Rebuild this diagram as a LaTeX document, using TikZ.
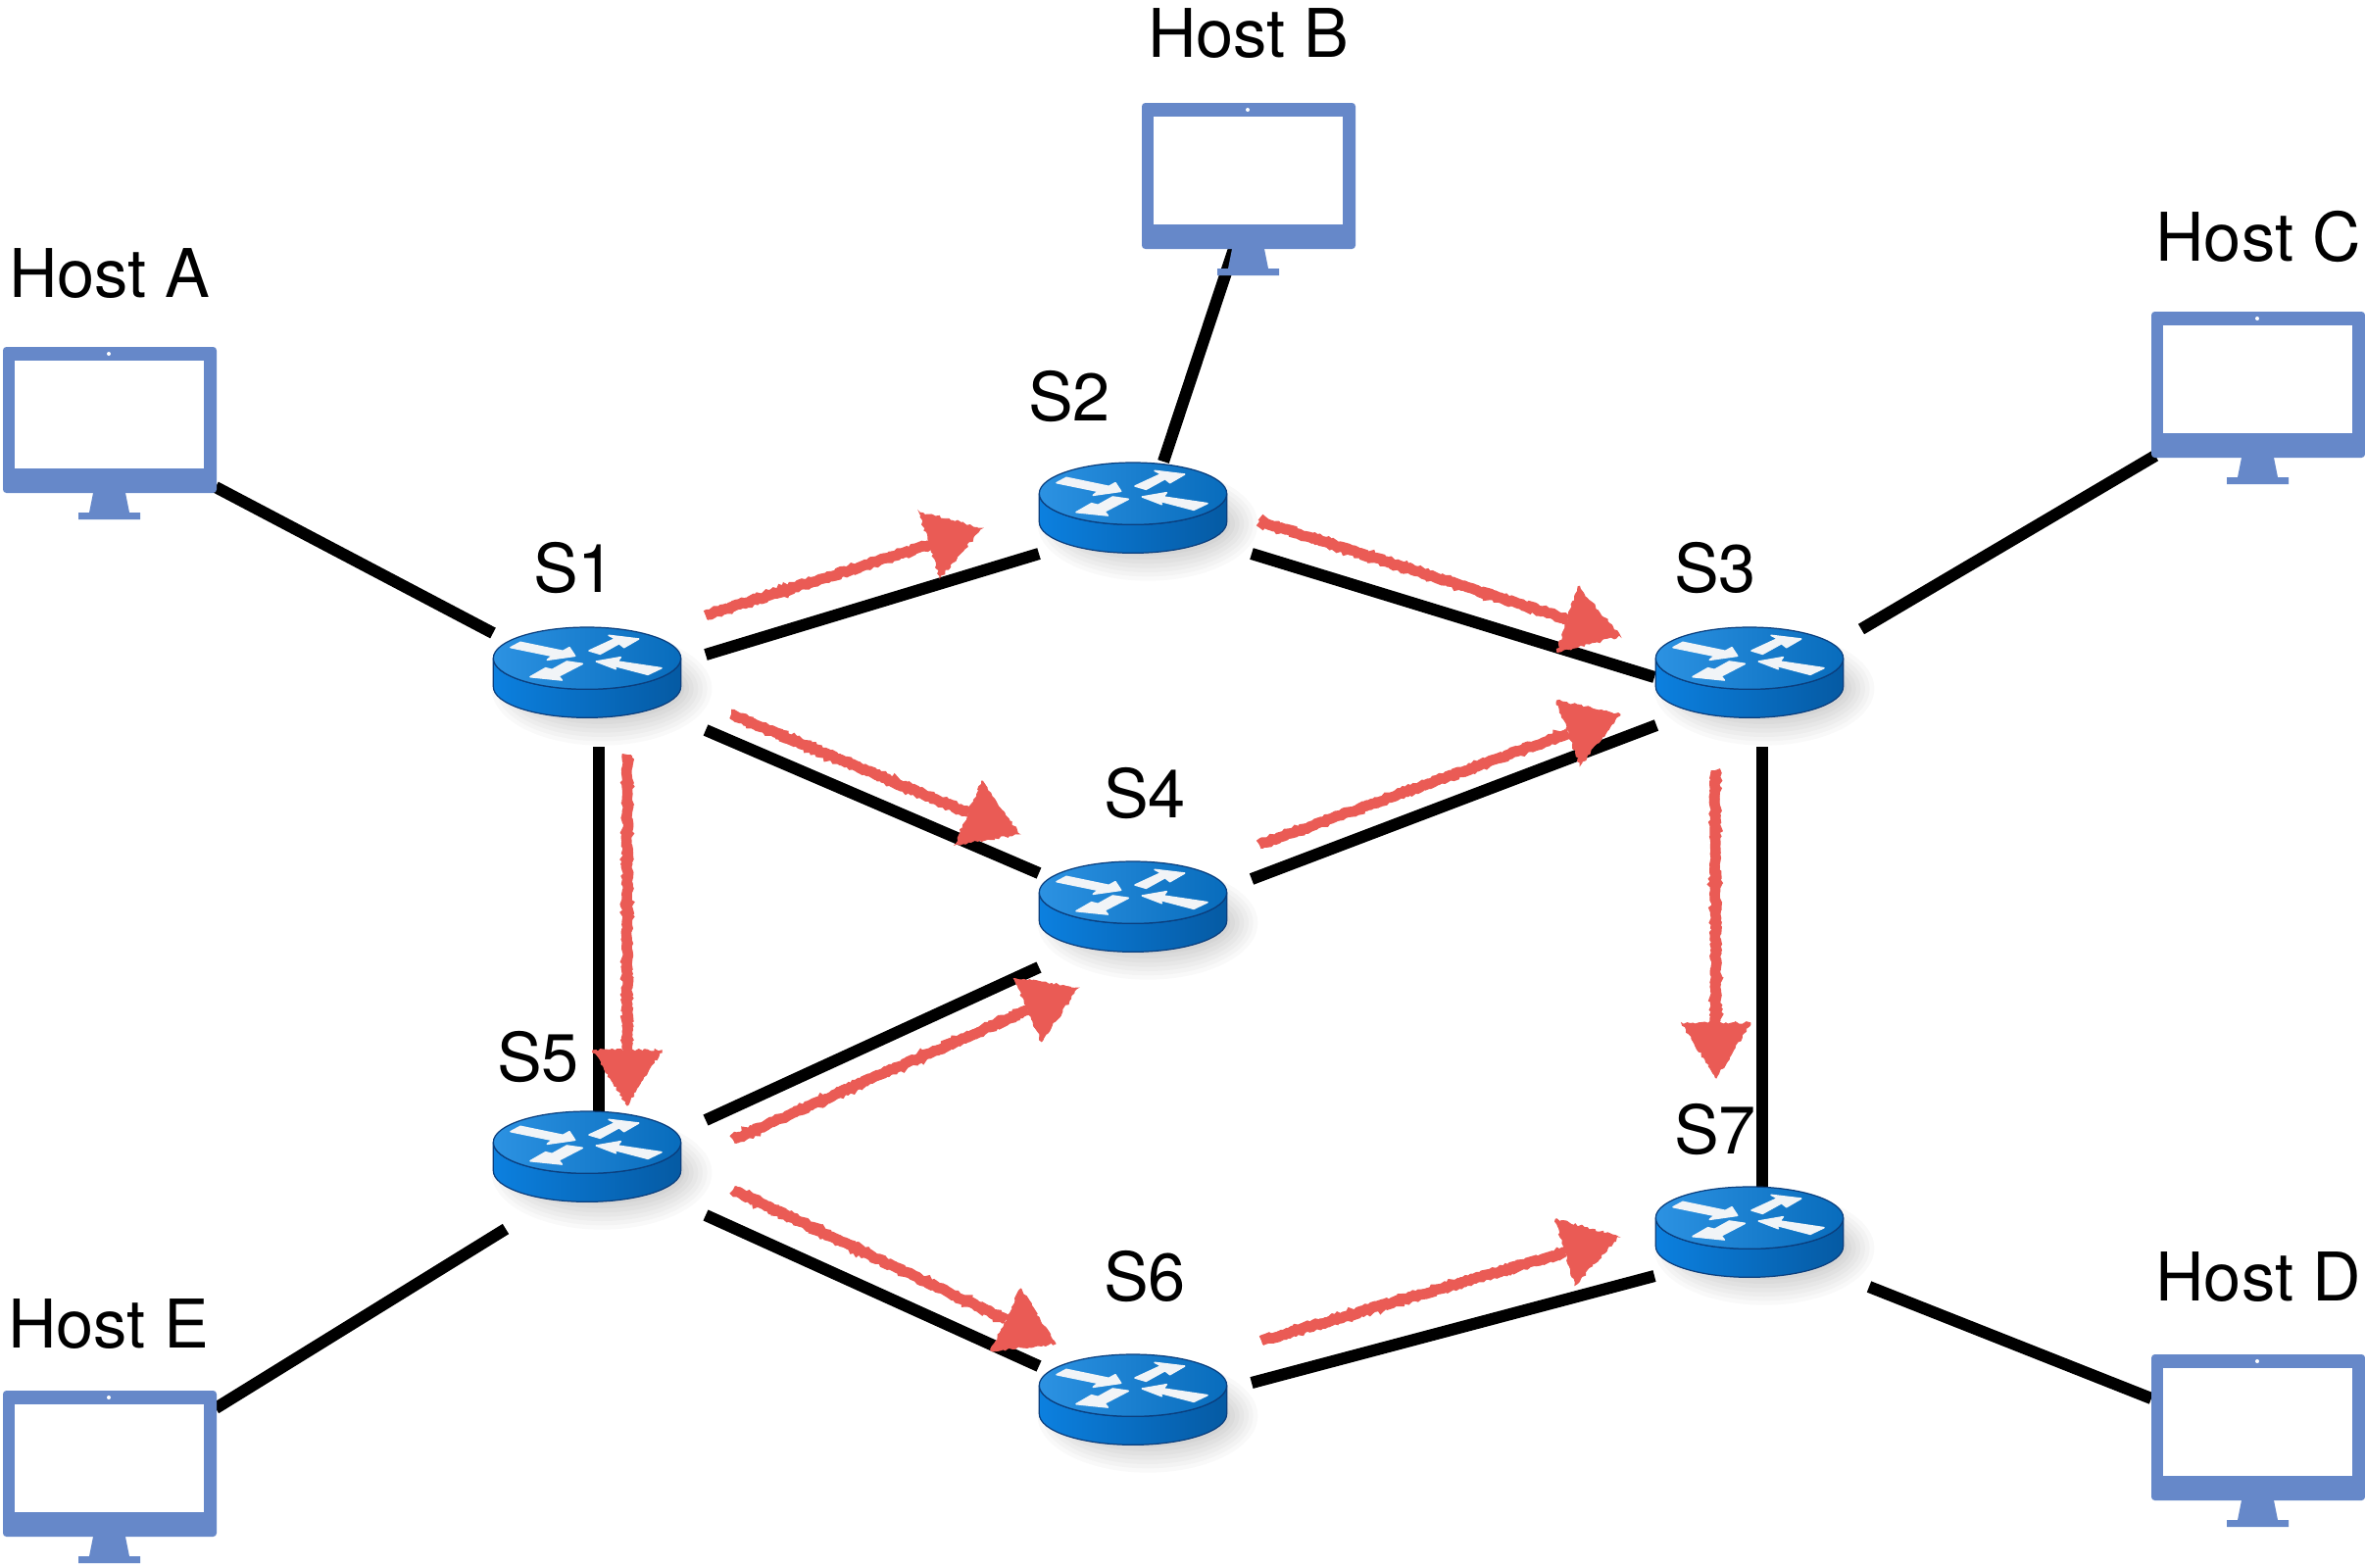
\documentclass[tikz,border=0pt]{standalone}
\usepackage{fontspec}
\setmainfont{TeX Gyre Heros}
\usetikzlibrary{calc,decorations.pathmorphing}
\definecolor{monitor}{HTML}{6688C9}
\definecolor{chalkred}{HTML}{EA5B55}
\definecolor{rimline}{HTML}{0B3F7E}
\definecolor{arrowwhite}{HTML}{F1F4F7}
\tikzset{
  link/.style={line width=6.9pt,black},
  chalkcore/.style={line width=5pt,draw=chalkred},
  chalkline/.style={line width=6pt,draw=chalkred,decorate,decoration={random steps,segment length=1.4pt,amplitude=0.7pt}},
  chalkhead/.style={fill=chalkred,draw=chalkred,line width=0.5pt,decorate,decoration={random steps,segment length=1.6pt,amplitude=0.8pt}},
  routerbox/.style={minimum width=3.84cm,minimum height=1.84cm,inner sep=0pt,draw=none},
  hostbox/.style={minimum width=4.36cm,minimum height=3.52cm,inner sep=0pt,draw=none},
  lbl/.style={inner sep=0pt,font=\fontsize{39}{41}\selectfont,text=black},
  router/.pic={
    \begin{scope}[scale=1/3]
      \foreach \k in {1,...,8}
        \fill[black,opacity=0.022] (45,50) circle[x radius={225+14*\k},y radius={70+13*\k}];
      \draw[rimline,line width=0.7pt,left color={rgb,255:red,12;green,128;blue,223},right color={rgb,255:red,5;green,90;blue,163}]
        (-287,-43) -- (-287,44) arc[start angle=180,end angle=0,x radius=287,y radius=95]
        -- (287,-43) arc[start angle=0,end angle=180,x radius=287,y radius=95] -- cycle;
      \draw[rimline,line width=0.7pt,left color={rgb,255:red,44;green,146;blue,226},right color={rgb,255:red,8;green,108;blue,188}]
        (0,-43) circle[x radius=287,y radius=95];
      \filldraw[arrowwhite,draw=arrowwhite,line width=0.9pt,line join=round] (-234,-76) -- (-204,-92) -- (-74,-65) -- (-54,-76) -- (-37,-50) -- (-122,-38) -- (-107,-50) -- cycle;
      \filldraw[arrowwhite,draw=arrowwhite,line width=0.9pt,line join=round] (6,-66) -- (86,-103) -- (66,-113) -- (158,-102) -- (113,-76) -- (98,-88) -- (40,-56) -- cycle;
      \filldraw[arrowwhite,draw=arrowwhite,line width=0.9pt,line join=round] (-62,-33) -- (-14,-26) -- (-87,12) -- (-77,24) -- (-174,14) -- (-127,-13) -- (-107,-8) -- cycle;
      \filldraw[arrowwhite,draw=arrowwhite,line width=0.9pt,line join=round] (28,-33) -- (103,-46) -- (93,-33) -- (228,-13) -- (186,7) -- (83,-20) -- (88,-10) -- cycle;
    \end{scope}
  },
  host/.pic={
    \fill[monitor] (-17,61) -- (16,61) -- (20,81) -- (31,81) -- (31,88) -- (-32,88) -- (-32,81) -- (-21,81) -- cycle;
    \fill[monitor,rounded corners=2pt] (-109,-88) rectangle (109,61);
    \fill[white] (-97,-74) rectangle (96,36);
    \fill[white] (-1,-81) circle[radius=2];
  }
}
\newcommand{\link}[4]{\draw[link] ([shift={(#2)}]#1.center) -- ([shift={(#4)}]#3.center);}
\newcommand{\chalk}[4]{%
  \coordinate (tl) at ([shift={(#2)}]#1.center);
  \coordinate (tp) at ([shift={(#4)}]#3.center);
  \coordinate (bs) at ($(tp)!32pt!(tl)$);
  \draw[chalkcore] (tl) -- (bs);
  \draw[chalkline] (tl) -- (bs);
  \filldraw[chalkhead] (tp) -- ($(bs)!20pt!90:(tp)$) -- ($(bs)!20pt!-90:(tp)$) -- cycle;
}
\begin{document}
\begin{tikzpicture}[x=0.02cm,y=-0.02cm]
\pgfmathsetseed{7}
\useasboundingbox (0,0) rectangle (2413,1599);
\fill[white] (0,0) rectangle (2413,1599);

\node[routerbox] (s1) at (599,686) {};
\node[routerbox] (s2) at (1156,518) {};
\node[routerbox] (s3) at (1785,686) {};
\node[routerbox] (s4) at (1156,925) {};
\node[routerbox] (s5) at (599,1180) {};
\node[routerbox] (s6) at (1156,1428) {};
\node[routerbox] (s7) at (1785,1257) {};
\node[hostbox] (ha) at (112,442) {};
\node[hostbox] (hb) at (1274,193) {};
\node[hostbox] (hc) at (2304,406) {};
\node[hostbox] (hd) at (2304,1470) {};
\node[hostbox] (he) at (112,1507) {};

\link{ha}{108,55}{s1}{-96,-40}
\link{hb}{-15,61}{s2}{31,-47}
\link{hc}{-105,59}{s3}{114,-44}
\link{s1}{121,-18}{s2}{-96,47}
\link{s2}{121,47}{s3}{-97,5}
\link{s1}{121,59}{s4}{-96,-34}
\link{s4}{121,-28}{s3}{-95,54}
\link{s1}{12,76}{s5}{12,-44}
\link{s5}{121,-37}{s4}{-96,62}
\link{s5}{121,60}{s6}{-96,-34}
\link{s6}{121,-17}{s7}{-97,45}
\link{s3}{13,76}{s7}{13,-44}
\link{s5}{-83,74}{he}{108,-70}
\link{s7}{122,56}{hd}{-109,-43}

\foreach \n in {s1,s2,s3,s4,s5,s6,s7} \pic at (\n) {router};
\foreach \n in {ha,hb,hc,hd,he} \pic at (\n) {host};

\chalk{s1}{121,-58}{s2}{-154,21}
\chalk{s2}{129,14}{s3}{-132,-37}
\chalk{s1}{147,43}{s4}{-116,-74}
\chalk{s4}{129,-63}{s3}{-132,43}
\chalk{s1}{41,84}{s5}{41,-52}
\chalk{s5}{149,-17}{s4}{-56,83}
\chalk{s5}{149,34}{s6}{-79,-57}
\chalk{s6}{131,-60}{s7}{-134,5}
\chalk{s3}{-35,100}{s7}{-34,-157}

\node[lbl] (la) at (112,279) {Host A};
\node[lbl] (lb) at (1274,34) {Host B};
\node[lbl] (lc) at (2304,242) {Host C};
\node[lbl] (ld) at (2304,1303) {Host D};
\node[lbl] (le) at (111,1351) {Host E};
\node[lbl] (l1) at (586,580) {S1};
\node[lbl] (l2) at (1091,405) {S2};
\node[lbl] (l3) at (1750,580) {S3};
\node[lbl] (l4) at (1168,810) {S4};
\node[lbl] (l5) at (549,1079) {S5};
\node[lbl] (l6) at (1168,1303) {S6};
\node[lbl] (l7) at (1750,1153) {S7};
\end{tikzpicture}
\end{document}
